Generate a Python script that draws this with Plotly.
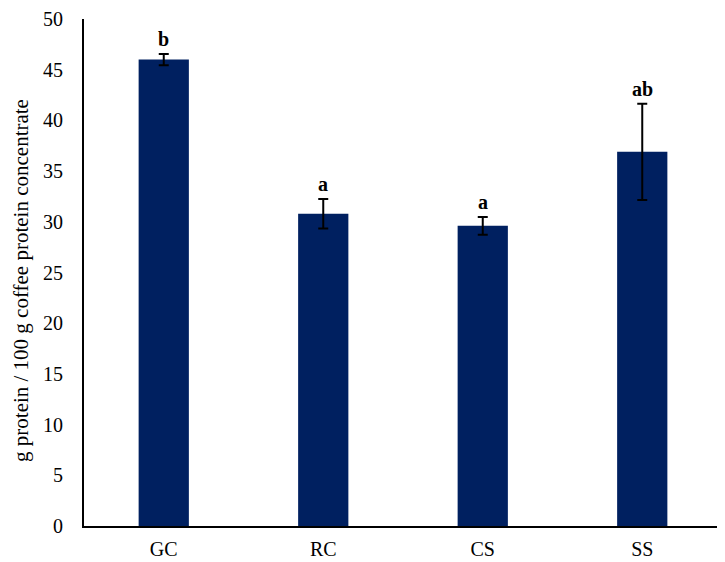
import plotly.graph_objects as go

categories = ["GC", "RC", "CS", "SS"]
values = [46.0, 30.8, 29.6, 36.9]
errors = [0.55, 1.45, 0.88, 4.75]
letters = ["b", "a", "a", "ab"]
y_title = "g protein / 100 g coffee protein concentrate"

bar_color = "#002060"
font_family = "Liberation Serif, Times New Roman, serif"

fig = go.Figure()
fig.add_trace(go.Bar(
    x=categories, y=values,
    marker=dict(color=bar_color, line=dict(width=0)),
    width=0.315,
    error_y=dict(type="data", array=errors, visible=True, color="black", thickness=2, width=5),
))

for c, v, e, l in zip(categories, values, errors, letters):
    fig.add_annotation(x=c, y=v + e, text=f"<b>{l}</b>", showarrow=False,
                       yanchor="bottom", yshift=2,
                       font=dict(family=font_family, size=20, color="black"))

fig.add_annotation(xref="paper", yref="paper", x=-0.099, y=0.485, text=y_title,
                   textangle=-90, showarrow=False, xanchor="center", yanchor="middle",
                   font=dict(family=font_family, size=21, color="black"))

fig.update_layout(
    width=717, height=554,
    margin=dict(l=76, r=3, t=11, b=36),
    paper_bgcolor="white", plot_bgcolor="white",
    showlegend=False,
    font=dict(family=font_family, size=20, color="black"),
)
fig.update_xaxes(showline=True, linecolor="black", linewidth=2, ticks="",
                 showgrid=False, tickfont=dict(size=20), automargin=False,
                 ticklabelstandoff=4)
fig.update_yaxes(range=[0, 50], dtick=5, showline=True, linecolor="black", linewidth=2,
                 ticks="", showgrid=False, zeroline=False, tickfont=dict(size=20),
                 ticklabelstandoff=15, automargin=False, ticklabeloverflow="allow")

fig.write_html("out.html")
